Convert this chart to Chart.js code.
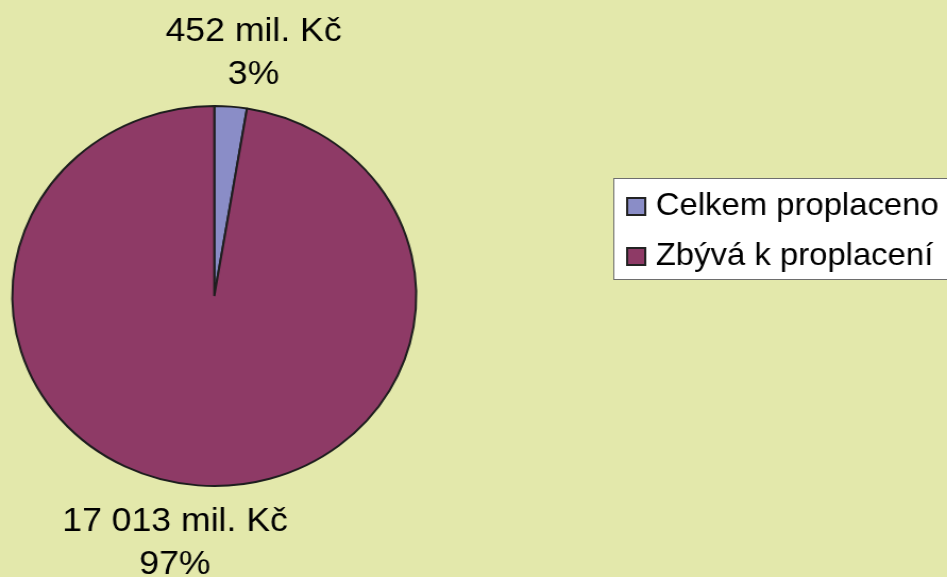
<!DOCTYPE html>
<html lang="cs">
<head>
<meta charset="utf-8">
<title>Proplaceno / zbývá k proplacení</title>
<script src="https://cdn.jsdelivr.net/npm/chart.js@4/dist/chart.umd.min.js"></script>
<style>
  html, body { margin: 0; padding: 0; background: #E3E8AB; overflow: hidden; }
  /* the original picture is stretched a little horizontally */
  #wrap { width: 891px; height: 577px; transform: scaleX(1.0629); transform-origin: 0 0; }
</style>
</head>
<body>
<div id="wrap"><canvas id="pie"></canvas></div>
<script>
// data
const categories = ['Celkem proplaceno', 'Zbývá k proplacení'];
const amounts = [452, 17013];          // mil. Kč
const unit = 'mil. Kč';
const sliceColors = ['#8A8DC7', '#8E3A66'];

const FONT = '"Liberation Sans", Arial, sans-serif';

// "17013" -> "17 013"
function formatAmount(v) {
  return String(v).replace(/\B(?=(\d{3})+(?!\d))/g, ' ');
}

const total = amounts.reduce((a, b) => a + b, 0);

// labels outside the pie: amount on the first line, share on the second
const pieLabels = {
  id: 'pieLabels',
  afterDatasetsDraw(chart) {
    const ctx = chart.ctx;
    const meta = chart.getDatasetMeta(0);
    const shift = 6.5 * Math.PI / 180;
    const lineHeight = 43;
    ctx.save();
    ctx.font = '33.5px ' + FONT;
    ctx.fillStyle = '#000';
    ctx.textAlign = 'center';
    ctx.textBaseline = 'alphabetic';
    meta.data.forEach((arc, i) => {
      const p = arc.getProps(['x', 'y', 'startAngle', 'endAngle', 'outerRadius']);
      const mid = (p.startAngle + p.endAngle) / 2 + shift;
      const r = p.outerRadius + 1;
      const ax = p.x + Math.cos(mid) * r;
      const ay = p.y + Math.sin(mid) * r;
      const lines = [
        formatAmount(amounts[i]) + ' ' + unit,
        Math.round(amounts[i] / total * 100) + '%'
      ];
      let y0;
      if (Math.sin(mid) < 0) {
        y0 = ay - 24.5 - lineHeight * (lines.length - 1);
      } else {
        y0 = ay + 48;
      }
      lines.forEach((t, k) => ctx.fillText(t, ax, y0 + k * lineHeight));
    });
    ctx.restore();
  }
};

// legend in a white box on the right
const boxLegend = {
  id: 'boxLegend',
  afterDraw(chart) {
    const ctx = chart.ctx;
    const ds = chart.data.datasets[0];
    ctx.save();
    ctx.fillStyle = '#FFFFFF';
    ctx.fillRect(577, 178.5, 400, 101);
    ctx.strokeStyle = '#6E6E6E';
    ctx.lineWidth = 1;
    ctx.strokeRect(577.5, 178.5, 400, 101);

    ctx.font = '30.9px ' + FONT;
    ctx.textAlign = 'left';
    ctx.textBaseline = 'alphabetic';
    chart.data.labels.forEach((label, i) => {
      const top = 198 + i * 50;
      ctx.fillStyle = ds.backgroundColor[i];
      ctx.fillRect(590, top, 17, 17);
      ctx.strokeStyle = '#222';
      ctx.lineWidth = 2;
      ctx.strokeRect(590, top, 17, 17);
      ctx.fillStyle = '#000';
      ctx.fillText(label, 617, 215 + i * 50);
    });
    ctx.restore();
  }
};

new Chart(document.getElementById('pie'), {
  type: 'pie',
  data: {
    labels: categories,
    datasets: [{
      data: amounts,
      backgroundColor: sliceColors,
      borderColor: '#1E1E1E',
      borderWidth: 2
    }]
  },
  options: {
    responsive: true,
    maintainAspectRatio: false,
    animation: false,
    events: [],
    layout: {
      padding: { left: 10.6, right: 498.4, top: 105, bottom: 90 }
    },
    plugins: {
      legend: { display: false },
      tooltip: { enabled: false }
    }
  },
  plugins: [pieLabels, boxLegend]
});
</script>
</body>
</html>
